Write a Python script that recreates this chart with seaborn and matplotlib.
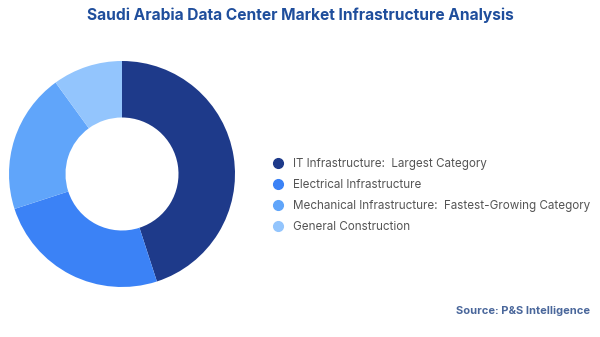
import matplotlib
matplotlib.use("Agg")
import matplotlib.pyplot as plt
from matplotlib.lines import Line2D
import seaborn as sns

# Market share by infrastructure segment (%)
segments = ["IT Infrastructure", "Electrical Infrastructure",
            "Mechanical Infrastructure", "General Construction"]
shares = [45, 25, 20, 10]
notes = ["Largest Category", "", "Fastest-Growing Category", ""]
colors = ["#1e3a8a", "#3b82f6", "#60a5fa", "#93c5fd"]

sns.set_theme(style="white")
plt.rcParams["font.family"] = ["Inter", "DejaVu Sans"]

fig = plt.figure(figsize=(6.0, 3.37), dpi=100)

# Donut
ax = fig.add_axes([9 / 600, (337 - 287) / 337, 226 / 600, 226 / 337])
ax.pie(shares, colors=colors, startangle=90, counterclock=False,
       wedgeprops=dict(width=0.5, linewidth=0))
ax.set_xlim(-1.0, 1.0)
ax.set_ylim(-1.0, 1.0)
ax.set_aspect("equal")
ax.axis("off")

# Legend
labels = [f"{s}:  {n}" if n else s for s, n in zip(segments, notes)]
handles = [Line2D([0], [0], marker="o", linestyle="", markersize=7,
                  markerfacecolor=c, markeredgecolor=c) for c in colors]
fig.legend(handles, labels, loc="center left",
           bbox_to_anchor=(267 / 600, 1 - 195.5 / 337), frameon=False,
           fontsize=8.4, labelcolor="#555555", handlelength=1.0,
           handletextpad=0.8, labelspacing=0.78, borderaxespad=0)

fig.text(0.5, 1 - 15 / 337, "Saudi Arabia Data Center Market Infrastructure Analysis",
         ha="center", va="center", fontsize=11.2, fontweight="bold", color="#1f4e9c")
fig.text(590 / 600, 1 - 311 / 337, "Source: P&S Intelligence",
         ha="right", va="center", fontsize=8, fontweight="bold", color="#4a679b")

fig.savefig("out.png", dpi=100)
